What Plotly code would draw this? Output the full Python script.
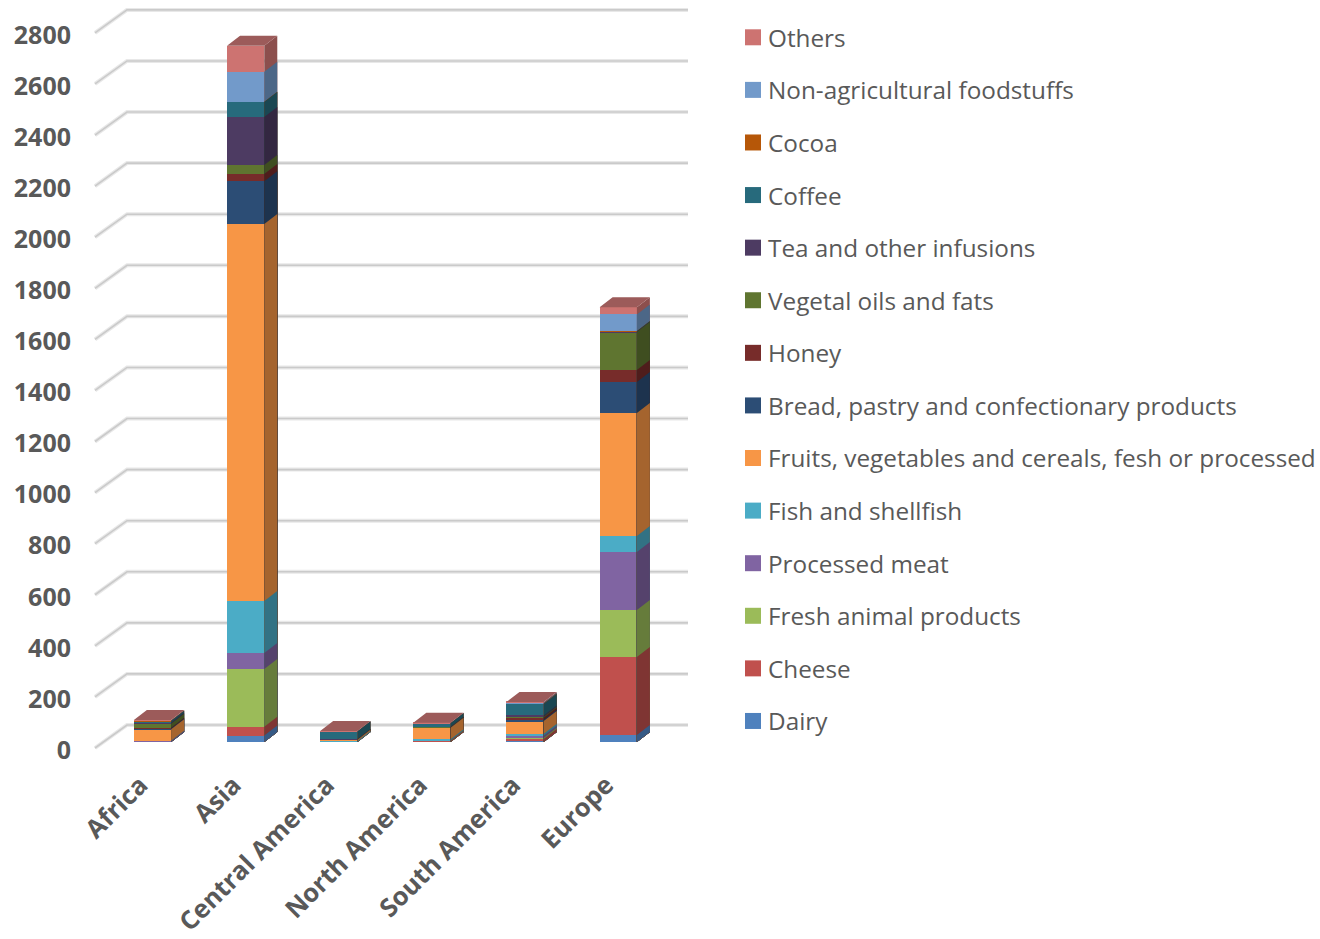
import plotly.graph_objects as go

regions = ["Africa", "Asia", "Central America", "North America", "South America", "Europe"]
ticks = list(range(0, 2801, 200))

dairy = [1, 25, 1, 3, 2, 27]
cheese = [1, 35, 1, 1, 10, 306]
fresh = [1, 226, 1, 1, 5, 184]
meat = [1, 62, 0, 1, 7, 227]
fish = [1, 204, 1, 5, 8, 63]
fruit = [45, 1476, 5, 45, 50, 481]
bread = [3, 168, 1, 1, 5, 122]
honey = [3, 28, 0, 1, 8, 47]
oils = [15, 35, 1, 1, 4, 148]
tea = [4, 188, 1, 1, 5, 1]
coffee = [7, 59, 29, 13, 45, 2]
cocoa = [1, 1, 0, 0, 2, 1]
nonag = [1, 117, 1, 1, 3, 65]
others = [2, 102, 1, 1, 3, 28]

series = [
    ("Dairy", dairy, "#4f81bd", "#365a85"),
    ("Cheese", cheese, "#c0504d", "#7f3533"),
    ("Fresh animal products", fresh, "#9bbb59", "#667c3b"),
    ("Processed meat", meat, "#8064a2", "#55426c"),
    ("Fish and shellfish", fish, "#4bacc6", "#327284"),
    ("Fruits, vegetables and cereals, fesh or processed", fruit, "#f79646", "#a5642e"),
    ("Bread, pastry and confectionary products", bread, "#2c4d75", "#1d334e"),
    ("Honey", honey, "#772c2a", "#4f1d1c"),
    ("Vegetal oils and fats", oils, "#5f7530", "#3f4e20"),
    ("Tea and other infusions", tea, "#4d3b62", "#332741"),
    ("Coffee", coffee, "#276a7c", "#1a4752"),
    ("Cocoa", cocoa, "#b65708", "#793a05"),
    ("Non-agricultural foodstuffs", nonag, "#729aca", "#4c6787"),
    ("Others", others, "#cd7371", "#8c4f4d"),
]

OX, OY = 8, 8
W, H = 1320 - OX, 939 - OY
L, R, T, B = 90 - OX, 696 - OX, 4 - OY + 4, 760 - OY
PXX = 93.15
PXY = 0.2554
X0 = 152.5 - OX
ZERO_AXIS = 748 - OY
ZERO_BAR = 742 - OY
BAR_W = 0.4
DX = 13 / PXX
DY = 10 / PXY
WALL_DX = 32 / PXX
WALL_DY = 23 / PXY
WALL_END = (688 - OX - X0) / PXX
FRONT = (95 - OX - X0) / PXX

xr = [(L - X0) / PXX, (R - X0) / PXX]
y1r = [(ZERO_AXIS - B) / PXY, (ZERO_AXIS - T) / PXY]
y2r = [(ZERO_BAR - B) / PXY, (ZERO_BAR - T) / PXY]

fig = go.Figure()

gx, gy = [], []
for t in ticks:
    gx += [FRONT, FRONT + WALL_DX, WALL_END, None]
    gy += [t, t + WALL_DY, t + WALL_DY, None]
fig.add_trace(go.Scatter(x=gx, y=gy, mode="lines", line=dict(color="#e8e8e8", width=4),
                         showlegend=False, hoverinfo="skip"))
fig.add_trace(go.Scatter(x=gx, y=gy, mode="lines", line=dict(color="#cacaca", width=1.6),
                         showlegend=False, hoverinfo="skip"))

for name, vals, col, side in series:
    fig.add_trace(go.Bar(x=list(range(len(regions))), y=vals, width=BAR_W, yaxis="y2", name=name,
                         marker=dict(color=col, line=dict(width=0)), showlegend=False))

# cumulative tops per series, so side faces can be painted from the top series downwards
cum = []
run = [0.0] * len(regions)
for name, vals, col, side in series:
    run = [a + b for a, b in zip(run, vals)]
    cum.append(list(run))

tx, ty = [], []
for i, top in enumerate(run):
    l, r = i - BAR_W / 2, i + BAR_W / 2
    tx += [l, l + DX, r + DX, r, l, None]
    ty += [top, top + DY, top + DY, top, top, None]

for (name, vals, col, side), tops in zip(reversed(series), reversed(cum)):
    sx, sy = [], []
    for i, top in enumerate(tops):
        r = i + BAR_W / 2
        sx += [r, r + DX, r + DX, r, r, None]
        sy += [0, DY, top + DY, top, 0, None]
    fig.add_trace(go.Scatter(x=sx, y=sy, yaxis="y2", mode="lines", fill="toself", fillcolor=side,
                             line=dict(width=0, color=side), showlegend=False, hoverinfo="skip"))

fig.add_trace(go.Scatter(x=tx, y=ty, yaxis="y2", mode="lines", fill="toself", fillcolor="#9c5b5a",
                         line=dict(width=0, color="#9c5b5a"), showlegend=False, hoverinfo="skip"))

for name, vals, col, side in reversed(series):
    fig.add_trace(go.Scatter(x=[None], y=[None], mode="markers", name=name, legendgroup=name,
                             marker=dict(symbol="square", size=16, color=col)))

fig.update_layout(
    width=W, height=H, autosize=False,
    margin=dict(l=L, r=W - R, t=T, b=H - B, pad=0, autoexpand=False),
    paper_bgcolor="white", plot_bgcolor="rgba(0,0,0,0)",
    barmode="stack", bargap=0,
    font=dict(family="Open Sans", color="#595959"),
    xaxis=dict(range=xr, tickmode="array", tickvals=list(range(len(regions))), ticktext=regions,
               tickangle=-45, tickfont=dict(size=25.5, family="Open Sans", weight="bold", color="#595959"),
               showgrid=False, zeroline=False, showline=False, ticks="", ticklabelstandoff=4,
               ticklabelshift=-12),
    yaxis=dict(range=y1r, tickmode="array", tickvals=ticks, showgrid=False, zeroline=False, showline=False,
               ticks="", tickfont=dict(size=25, family="Open Sans", weight="bold", color="#595959"),
               ticklabelstandoff=18, ticklabelshift=2),
    yaxis2=dict(range=y2r, overlaying="y", visible=False, showgrid=False, zeroline=False),
    legend=dict(x=(728 - OX - L) / (R - L), y=1 - (15 - OY - T) / (B - T), xanchor="left", yanchor="top",
                traceorder="grouped", tracegroupgap=18, font=dict(size=24.3, family="Open Sans", color="#595959"),
                bgcolor="rgba(0,0,0,0)", borderwidth=0, itemsizing="trace"),
)

fig.write_html(
    "out.html",
    default_width=f"{W}px",
    default_height=f"{H}px",
    post_script=(
        "document.body.style.marginBottom='0';document.body.style.marginRight='0';"
        "document.querySelectorAll('.legendsymbols').forEach(function(g){g.setAttribute('transform','translate(5,0)');});"
        "document.querySelectorAll('.legend .scrollbox').forEach(function(g){g.removeAttribute('clip-path');});"
        "document.querySelectorAll('.legend').forEach(function(g){g.style.overflow='visible';});"
    ),
)
